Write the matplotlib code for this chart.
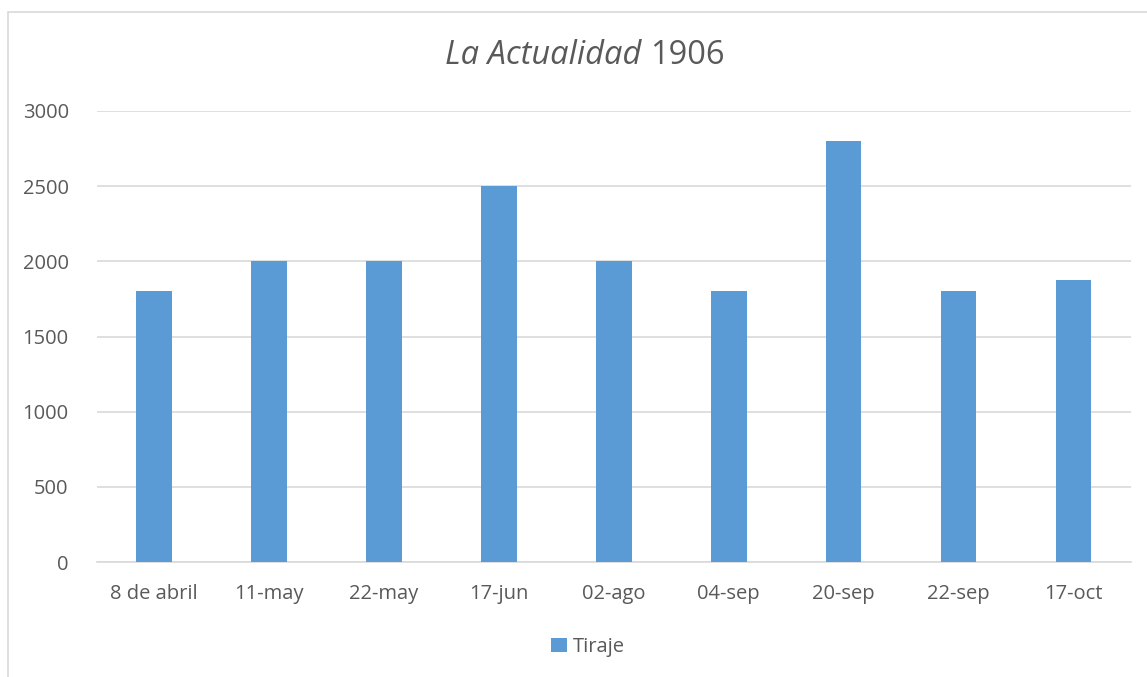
import matplotlib
matplotlib.use("Agg")
import matplotlib.pyplot as plt
from matplotlib.patches import Rectangle

categories = ["8 de abril", "11-may", "22-may", "17-jun", "02-ago", "04-sep", "20-sep", "22-sep", "17-oct"]
tiraje = [1800, 2000, 2000, 2500, 2000, 1800, 2800, 1800, 1875]
yticks = [0, 500, 1000, 1500, 2000, 2500, 3000]

W, H = 1147, 677
plt.rcParams['font.family'] = ['Open Sans', 'DejaVu Sans']
fig = plt.figure(figsize=(W / 100, H / 100), dpi=100)
ax = fig.add_axes([96.5 / W, 1 - 562 / H, (1131 - 96.5) / W, (562 - 111) / H])

color = "#5B9BD5"
text_color = "#595959"
x = list(range(len(categories)))
ax.bar(x, tiraje, width=0.31, color=color, zorder=3, label="Tiraje")
ax.set_xlim(-0.5, len(categories) - 0.5)
ax.set_ylim(0, 3000)
ax.set_yticks(yticks)
ax.set_yticklabels([str(v) for v in yticks])
ax.set_xticks(x)
ax.set_xticklabels(categories)
ax.tick_params(axis='both', length=0, labelsize=14.5, colors=text_color)
ax.tick_params(axis='y', pad=20)
ax.tick_params(axis='x', pad=16)
ax.grid(axis='y', color="#D9D9D9", linewidth=1.2, zorder=0)
for s in ["top", "right", "left"]:
    ax.spines[s].set_visible(False)
ax.spines["bottom"].set_color("#D9D9D9")
ax.spines["bottom"].set_linewidth(1.2)

# Title: italic part + regular part, centred as a whole
ty = 1 - 56 / H
t1 = fig.text(0, ty, "La Actualidad", ha="left", va="center", fontsize=23.5,
              style="italic", color=text_color)
t2 = fig.text(0, ty, "1906", ha="left", va="center", fontsize=23.5, color=text_color)
fig.canvas.draw()
r = fig.canvas.get_renderer()
w1 = t1.get_window_extent(r).width
w2 = t2.get_window_extent(r).width
gap = 9
total = w1 + gap + w2
start = 585 - total / 2
t1.set_x(start / W)
t2.set_x((start + w1 + gap) / W)

leg = fig.legend(loc="center", bbox_to_anchor=(588 / W, 1 - 647 / H), frameon=False,
                 fontsize=14.5, handlelength=0.75, handleheight=0.75, handletextpad=0.3,
                 labelcolor=text_color)

fig.patches.append(Rectangle((8 / W, -0.1), 1.2, 1.1 - 12 / H, transform=fig.transFigure,
                             fill=False, edgecolor="#D9D9D9", linewidth=1.2))

fig.savefig("out.png", dpi=100)
